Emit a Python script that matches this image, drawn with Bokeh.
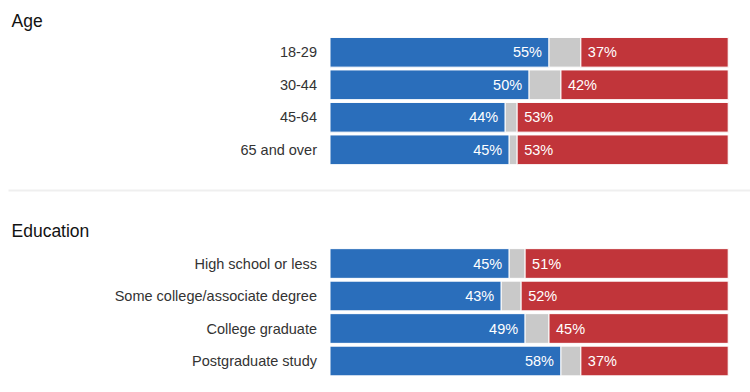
from bokeh.plotting import figure
from bokeh.models import Range1d, ColumnDataSource
from bokeh.core.properties import value
from bokeh.embed import file_html
from bokeh.resources import INLINE

# ---- data ----
age_groups = ["18-29", "30-44", "45-64", "65 and over"]
age_dem = [55, 50, 44, 45]
age_rep = [37, 42, 53, 53]

edu_groups = ["High school or less", "Some college/associate degree",
              "College graduate", "Postgraduate study"]
edu_dem = [45, 43, 49, 58]
edu_rep = [51, 52, 45, 37]

sections = [("Age", age_groups, age_dem, age_rep),
            ("Education", edu_groups, edu_dem, edu_rep)]

# ---- layout constants (pixels) ----
W, H = 750, 392
BAR_LEFT_PX, BAR_RIGHT_PX = 329.5, 727.7
px_per_pct = (BAR_RIGHT_PX - BAR_LEFT_PX) / 100.0
x_start = -BAR_LEFT_PX / px_per_pct
x_end = 100 + (W - BAR_RIGHT_PX) / px_per_pct

section_first_row = [51.8, 263.0]
section_title_y = [20.0, 230.7]
row_pitch = 32.5
bar_h = 29.7

BLUE = "#2a6ebb"
RED = "#c1353a"
GRAY = "#c9c9c9"
FONT = value("Liberation Sans")

p = figure(width=W, height=H, output_backend="svg", toolbar_location=None,
           x_range=Range1d(x_start, x_end), y_range=Range1d(H, 0),
           min_border=0, outline_line_color=None)
p.axis.visible = False
p.grid.visible = False
p.background_fill_color = "white"
p.border_fill_color = "white"

# divider between sections
p.segment(x0=[x_start + 8 / px_per_pct], x1=[x_end], y0=[190], y1=[190],
          line_color="#efefef", line_width=2)

for si, (title, groups, dem, rep) in enumerate(sections):
    ys = [section_first_row[si] + i * row_pitch for i in range(len(groups))]
    red_start = [100 - r for r in rep]
    src = ColumnDataSource(dict(
        y=ys, group=groups, dem=dem, rep=rep, red_start=red_start,
        zero=[0] * len(groups), hundred=[100] * len(groups),
        dem_lbl=[f"{d}%" for d in dem], rep_lbl=[f"{r}%" for r in rep],
    ))
    p.hbar(y="y", left="zero", right="dem", height=bar_h, source=src,
           fill_color=BLUE, line_color="white", line_width=1)
    p.hbar(y="y", left="dem", right="red_start", height=bar_h, source=src,
           fill_color=GRAY, line_color="white", line_width=1)
    p.hbar(y="y", left="red_start", right="hundred", height=bar_h, source=src,
           fill_color=RED, line_color="white", line_width=1)
    p.text(x="dem", y="y", text="dem_lbl", source=src, x_offset=-7,
           text_align="right", text_baseline="middle", text_color="white",
           text_font=FONT, text_font_size="14.5px")
    p.text(x="red_start", y="y", text="rep_lbl", source=src, x_offset=7,
           text_align="left", text_baseline="middle", text_color="white",
           text_font=FONT, text_font_size="14.5px")
    p.text(x="zero", y="y", text="group", source=src, x_offset=-13,
           text_align="right", text_baseline="middle", text_color="#333333",
           text_font=FONT, text_font_size="14.5px")
    p.text(x=[x_start], y=[section_title_y[si]], text=[title], x_offset=11,
           text_align="left", text_baseline="alphabetic", text_color="#121212",
           text_font=FONT, text_font_size="17.5px")

open("out.html", "w").write(file_html(p, INLINE))
